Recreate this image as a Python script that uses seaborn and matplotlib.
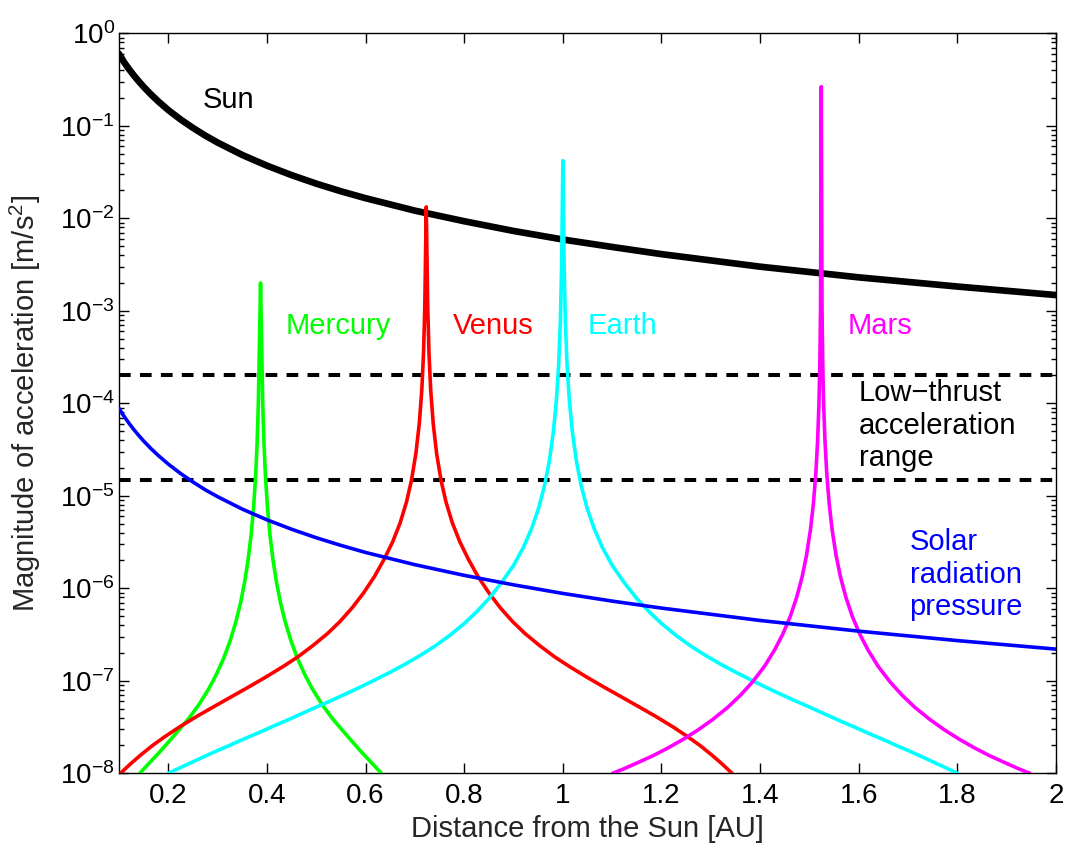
import matplotlib
matplotlib.use("Agg")
import matplotlib.pyplot as plt
import matplotlib.ticker as mticker
import seaborn as sns

# ---------------------------------------------------------------- data
# Solar gravity [m/s^2] versus heliocentric distance [AU]
sun_r = [0.10, 0.11, 0.12, 0.13, 0.14, 0.15, 0.165, 0.18, 0.20, 0.225, 0.25,
         0.275, 0.30, 0.35, 0.40, 0.45, 0.50, 0.55, 0.60, 0.70, 0.80, 0.90,
         1.00, 1.10, 1.20, 1.40, 1.60, 1.80, 2.00]
sun_acc = [0.60, 0.49, 0.412, 0.351, 0.303, 0.264, 0.218, 0.183, 0.148, 0.117,
           0.095, 0.0784, 0.0659, 0.0484, 0.0371, 0.0293, 0.0237, 0.0196,
           0.0165, 0.0121, 0.0093, 0.0073, 0.0059, 0.0049, 0.0041, 0.0030,
           0.0023, 0.00183, 0.00148]

# Solar radiation pressure
srp_r = sun_r
srp_acc = [8.8e-5, 7.27e-5, 6.11e-5, 5.21e-5, 4.49e-5, 3.91e-5, 3.23e-5,
           2.72e-5, 2.2e-5, 1.74e-5, 1.41e-5, 1.16e-5, 9.78e-6, 7.18e-6,
           5.5e-6, 4.35e-6, 3.52e-6, 2.91e-6, 2.44e-6, 1.80e-6, 1.38e-6,
           1.09e-6, 8.8e-7, 7.27e-7, 6.11e-7, 4.49e-7, 3.44e-7, 2.72e-7, 2.2e-7]

# Planetary gravity along the Sun-planet line
mercury_r = [0.142, 0.162, 0.182, 0.202, 0.222, 0.242, 0.262, 0.282, 0.297,
             0.312, 0.325, 0.337, 0.347, 0.355, 0.362, 0.368, 0.373, 0.377,
             0.380, 0.3825, 0.3845, 0.387,
             0.3895, 0.3915, 0.394, 0.397, 0.401, 0.406, 0.412, 0.419, 0.427,
             0.437, 0.449, 0.462, 0.477, 0.492, 0.512, 0.532, 0.552, 0.572,
             0.592, 0.612, 0.632]
mercury_acc = [1.00e-8, 1.30e-8, 1.69e-8, 2.23e-8, 2.96e-8, 3.95e-8, 5.52e-8,
               8.18e-8, 1.16e-7, 1.74e-7, 2.67e-7, 4.34e-7, 7.17e-7, 1.19e-6,
               2.07e-6, 3.83e-6, 7.60e-6, 1.62e-5, 3.62e-5, 9.80e-5, 3.67e-4,
               2.0e-3,
               3.67e-4, 9.80e-5, 3.62e-5, 1.62e-5, 7.60e-6, 3.83e-6, 2.07e-6,
               1.19e-6, 7.17e-7, 4.34e-7, 2.67e-7, 1.74e-7, 1.16e-7, 8.18e-8,
               5.52e-8, 3.95e-8, 2.96e-8, 2.23e-8, 1.69e-8, 1.30e-8, 1.00e-8]

venus_r = [0.103, 0.123, 0.143, 0.168, 0.193, 0.223, 0.258, 0.293, 0.328,
           0.363, 0.398, 0.433, 0.463, 0.493, 0.523, 0.548, 0.573, 0.596,
           0.618, 0.638, 0.655, 0.670, 0.683, 0.693, 0.702, 0.709, 0.714,
           0.7175, 0.720, 0.723,
           0.726, 0.7285, 0.732, 0.737, 0.744, 0.753, 0.763, 0.776, 0.791,
           0.808, 0.828, 0.850, 0.873, 0.898, 0.923, 0.953, 0.983, 1.013,
           1.048, 1.083, 1.118, 1.153, 1.188, 1.223, 1.253, 1.278, 1.303,
           1.323, 1.343]
venus_acc = [1.00e-8, 1.26e-8, 1.56e-8, 2.00e-8, 2.49e-8, 3.18e-8, 4.13e-8,
             5.28e-8, 6.73e-8, 8.57e-8, 1.10e-7, 1.43e-7, 1.82e-7, 2.40e-7,
             3.25e-7, 4.37e-7, 6.17e-7, 8.93e-7, 1.34e-6, 2.08e-6, 3.19e-6,
             5.08e-6, 8.59e-6, 1.47e-5, 2.87e-5, 6.12e-5, 1.40e-4, 3.52e-4,
             1.09e-3, 1.33e-2,
             1.09e-3, 3.52e-4, 1.40e-4, 6.12e-5, 2.87e-5, 1.47e-5, 8.59e-6,
             5.08e-6, 3.19e-6, 2.08e-6, 1.34e-6, 8.93e-7, 6.17e-7, 4.37e-7,
             3.25e-7, 2.40e-7, 1.82e-7, 1.43e-7, 1.10e-7, 8.57e-8, 6.73e-8,
             5.28e-8, 4.13e-8, 3.18e-8, 2.49e-8, 2.00e-8, 1.56e-8, 1.26e-8,
             1.00e-8]

earth_r = [0.20, 0.23, 0.26, 0.29, 0.32, 0.35, 0.38, 0.41, 0.44, 0.47, 0.50,
           0.53, 0.56, 0.59, 0.62, 0.65, 0.68, 0.71, 0.74, 0.77, 0.80, 0.825,
           0.85, 0.875, 0.90, 0.92, 0.937, 0.951, 0.963, 0.973, 0.981, 0.987,
           0.9915, 0.995, 0.9975, 1.0,
           1.0025, 1.005, 1.0085, 1.013, 1.019, 1.027, 1.037, 1.049, 1.063,
           1.08, 1.10, 1.125, 1.15, 1.175, 1.20, 1.23, 1.26, 1.29, 1.32, 1.35,
           1.38, 1.41, 1.44, 1.47, 1.50, 1.53, 1.56, 1.59, 1.62, 1.65, 1.68,
           1.71, 1.74, 1.77, 1.80]
earth_acc = [1.00e-8, 1.19e-8, 1.41e-8, 1.67e-8, 1.96e-8, 2.31e-8, 2.70e-8,
             3.18e-8, 3.73e-8, 4.40e-8, 5.20e-8, 6.11e-8, 7.23e-8, 8.59e-8,
             1.03e-7, 1.24e-7, 1.51e-7, 1.87e-7, 2.36e-7, 3.08e-7, 4.16e-7,
             5.57e-7, 7.73e-7, 1.14e-6, 1.77e-6, 2.77e-6, 4.48e-6, 7.40e-6,
             1.30e-5, 2.45e-5, 5.05e-5, 1.10e-4, 2.62e-4, 7.78e-4, 3.23e-3,
             4.2e-2,
             3.23e-3, 7.78e-4, 2.62e-4, 1.10e-4, 5.05e-5, 2.45e-5, 1.30e-5,
             7.40e-6, 4.48e-6, 2.77e-6, 1.77e-6, 1.14e-6, 7.73e-7, 5.57e-7,
             4.16e-7, 3.08e-7, 2.36e-7, 1.87e-7, 1.51e-7, 1.24e-7, 1.03e-7,
             8.59e-8, 7.23e-8, 6.11e-8, 5.20e-8, 4.40e-8, 3.73e-8, 3.18e-8,
             2.70e-8, 2.31e-8, 1.96e-8, 1.67e-8, 1.41e-8, 1.19e-8, 1.00e-8]

mars_r = [1.101, 1.124, 1.154, 1.184, 1.214, 1.244, 1.274, 1.304, 1.334,
          1.359, 1.384, 1.409, 1.429, 1.446, 1.461, 1.474, 1.485, 1.494,
          1.502, 1.508, 1.513, 1.5165, 1.5192, 1.521, 1.5225, 1.524,
          1.5255, 1.527, 1.5288, 1.5315, 1.535, 1.540, 1.546, 1.554, 1.563,
          1.574, 1.587, 1.602, 1.619, 1.639, 1.664, 1.689, 1.714, 1.744,
          1.774, 1.804, 1.834, 1.864, 1.894, 1.924, 1.947]
mars_acc = [1.00e-8, 1.12e-8, 1.32e-8, 1.56e-8, 1.89e-8, 2.33e-8, 2.94e-8,
            3.82e-8, 5.15e-8, 6.89e-8, 9.64e-8, 1.44e-7, 2.14e-7, 3.20e-7,
            4.95e-7, 7.96e-7, 1.32e-6, 2.27e-6, 4.29e-6, 8.23e-6, 1.77e-5,
            3.89e-5, 9.72e-5, 2.55e-4, 1.05e-3, 0.265,
            1.05e-3, 2.55e-4, 9.72e-5, 3.89e-5, 1.77e-5, 8.23e-6, 4.29e-6,
            2.27e-6, 1.32e-6, 7.96e-7, 4.95e-7, 3.20e-7, 2.14e-7, 1.44e-7,
            9.64e-8, 6.89e-8, 5.15e-8, 3.82e-8, 2.94e-8, 2.33e-8, 1.89e-8,
            1.56e-8, 1.32e-8, 1.12e-8, 1.00e-8]

# Typical low-thrust acceleration band
low_thrust_bounds = [2e-4, 1.5e-5]

x_ticks = [0.2, 0.4, 0.6, 0.8, 1.0, 1.2, 1.4, 1.6, 1.8, 2.0]
x_tick_labels = ["0.2", "0.4", "0.6", "0.8", "1", "1.2", "1.4", "1.6", "1.8", "2"]
y_ticks = [1e-8, 1e-7, 1e-6, 1e-5, 1e-4, 1e-3, 1e-2, 1e-1, 1e0]

planets = [
    ("Mercury", mercury_r, mercury_acc, (0.0, 1.0, 0.0), 0.437, 6.8e-4),
    ("Venus", venus_r, venus_acc, (1.0, 0.0, 0.0), 0.776, 6.8e-4),
    ("Earth", earth_r, earth_acc, (0.0, 1.0, 1.0), 1.051, 6.8e-4),
    ("Mars", mars_r, mars_acc, (1.0, 0.0, 1.0), 1.578, 6.8e-4),
]

# ---------------------------------------------------------------- style
sns.set_theme(style="ticks")
plt.rcParams["font.family"] = ["Liberation Sans", "DejaVu Sans"]
plt.rcParams["mathtext.fontset"] = "custom"
plt.rcParams["mathtext.rm"] = "Liberation Sans"
plt.rcParams["mathtext.it"] = "Liberation Sans"
TICK_FS = 20
TEXT_FS = 21

fig = plt.figure(figsize=(10.73, 8.48), dpi=100)
ax = fig.add_axes([0.1109, 0.0881, 0.8733, 0.8726])
ax.set_yscale("log")

for yb in low_thrust_bounds:
    ax.axhline(yb, color="black", lw=2.9, dashes=(2.9, 2.3), zorder=2)

sns.lineplot(x=sun_r, y=sun_acc, ax=ax, color="black", linewidth=4.8,
             sort=False, estimator=None, zorder=3)

for name, r, acc, col, tx, ty in planets:
    sns.lineplot(x=r, y=acc, ax=ax, color=col, linewidth=2.6,
                 sort=False, estimator=None, zorder=4)
    ax.text(tx, ty, name, color=col, fontsize=TEXT_FS, va="center", ha="left")

sns.lineplot(x=srp_r, y=srp_acc, ax=ax, color=(0.0, 0.0, 1.0), linewidth=2.6,
             sort=False, estimator=None, zorder=5)

ax.text(0.322, 0.19, "Sun", color="black", fontsize=TEXT_FS,
        va="center", ha="center")
ax.text(1.600, 5.7e-5, "Low\u2212thrust\nacceleration\nrange", color="black",
        fontsize=TEXT_FS, va="center", ha="left", linespacing=1.2)
ax.text(1.703, 1.4e-6, "Solar\nradiation\npressure", color=(0.0, 0.0, 1.0),
        fontsize=TEXT_FS, va="center", ha="left", linespacing=1.2)

# ---------------------------------------------------------------- axes
ax.set_xlim(0.1, 2.0)
ax.set_ylim(1e-8, 1e0)
ax.set_xticks(x_ticks)
ax.xaxis.set_major_formatter(mticker.FixedFormatter(x_tick_labels))
ax.yaxis.set_major_locator(mticker.FixedLocator(y_ticks))
ax.yaxis.set_major_formatter(mticker.LogFormatterSciNotation(base=10))
ax.yaxis.set_minor_locator(mticker.LogLocator(base=10, subs=range(2, 10), numticks=20))
ax.yaxis.set_minor_formatter(mticker.NullFormatter())
ax.xaxis.set_minor_locator(mticker.NullLocator())

ax.tick_params(which="both", direction="in", top=True, right=True,
               colors="black", labelsize=TICK_FS, width=1.0)
ax.tick_params(which="major", length=7)
ax.tick_params(which="minor", length=3.5)
ax.tick_params(axis="x", which="major", pad=7)
ax.tick_params(axis="y", which="major", pad=3)
for s in ax.spines.values():
    s.set_color("black")
    s.set_linewidth(1.0)

ax.set_xlabel("Distance from the Sun [AU]", fontsize=TEXT_FS)
ax.set_ylabel("Magnitude of acceleration [m/s$^2$]", fontsize=TEXT_FS)
ax.xaxis.set_label_coords(0.5, -0.056)
ax.yaxis.set_label_coords(-0.081, 0.5)

fig.savefig("out.png", dpi=100, facecolor="white")
